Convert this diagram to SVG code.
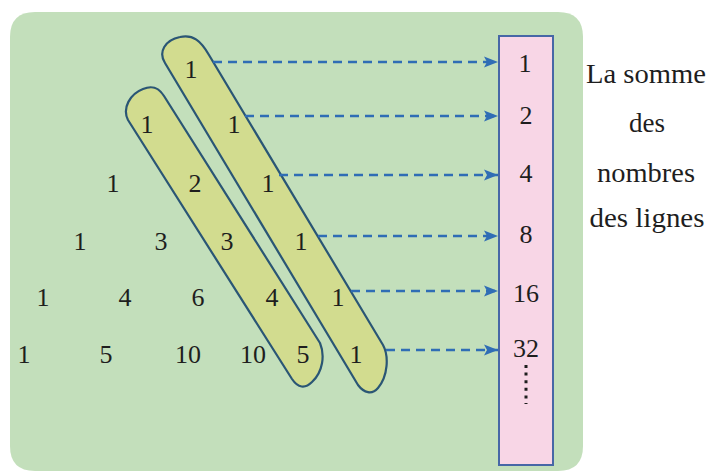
<svg xmlns="http://www.w3.org/2000/svg" width="712" height="472" viewBox="0 0 712 472">
  <style>
    .num { font-size: 26px; fill: #1e1e1e; text-anchor: middle; }
    .lbl { font-size: 27px; fill: #1e1e1e; text-anchor: middle; }
    .cap { fill: #d2dc8f; stroke: #2a5675; stroke-width: 2.2; stroke-linejoin: round; }
    .arr { stroke: #2f6db5; stroke-width: 2.6; stroke-dasharray: 9 6; fill: none; marker-end: url(#ah); }
  </style>
  <defs>
    <marker id="ah" markerUnits="userSpaceOnUse" markerWidth="16" markerHeight="14" refX="14" refY="7" orient="auto">
      <path d="M0,1.5 L14,7 L0,12.5 L3,7 Z" fill="#2f6db5"/>
    </marker>
  </defs>
  <rect width="712" height="472" fill="#ffffff"/>
  <g id="panel">
    <path d="M35,12 H558 Q583,12 583,37 V446 Q583,471 558,471 H35 Q10,471 10,446 V37 Q10,12 35,12 Z" fill="#c3dfbb"/>
  </g>
  <g id="capsule-inner">
    <path class="cap" d="M128,120 C122,108 130,94 143,89 C153,85 159,88 164,96 L320,343 C325,355 323,372 312,382 C305,389 298,388 292,379 Z"/>
  </g>
  <g id="capsule-outer">
    <path class="cap" d="M165,63 C158,52 165,40 180,37 C193,34 201,41 209,55 L383,345 C389,356 388,376 378,388 C372,395 364,393 358,385 Z"/>
  </g>
  <g id="triangle" font-family="Liberation Serif, Times New Roman, DejaVu Serif, serif">
    <text class="num" x="191" y="78">1</text>
    <text class="num" x="147" y="133">1</text>
    <text class="num" x="234" y="133">1</text>
    <text class="num" x="113" y="192">1</text>
    <text class="num" x="195" y="192">2</text>
    <text class="num" x="268" y="192">1</text>
    <text class="num" x="80" y="250">1</text>
    <text class="num" x="161" y="250">3</text>
    <text class="num" x="227" y="250">3</text>
    <text class="num" x="301" y="250">1</text>
    <text class="num" x="43" y="306">1</text>
    <text class="num" x="125" y="306">4</text>
    <text class="num" x="198" y="306">6</text>
    <text class="num" x="272" y="306">4</text>
    <text class="num" x="338" y="306">1</text>
    <text class="num" x="24" y="363">1</text>
    <text class="num" x="106" y="363">5</text>
    <text class="num" x="188" y="363">10</text>
    <text class="num" x="253" y="363">10</text>
    <text class="num" x="303" y="363">5</text>
    <text class="num" x="356" y="363">1</text>
  </g>
  <g id="sums" font-family="Liberation Serif, Times New Roman, DejaVu Serif, serif">
    <rect x="499" y="36" width="54" height="429" fill="#f8d6e6" stroke="#4767a6" stroke-width="2"/>
    <text class="num" x="525" y="72">1</text>
    <text class="num" x="526" y="124">2</text>
    <text class="num" x="526" y="182">4</text>
    <text class="num" x="526" y="243">8</text>
    <text class="num" x="526" y="302">16</text>
    <text class="num" x="526" y="357">32</text>
    <line x1="526" y1="365" x2="526" y2="404" stroke="#1e1e1e" stroke-width="3" stroke-dasharray="3 4.6"/>
  </g>
  <g id="label" font-family="Liberation Serif, Times New Roman, DejaVu Serif, serif">
    <text class="lbl" x="646" y="83" textLength="120" lengthAdjust="spacingAndGlyphs">La somme</text>
    <text class="lbl" x="647" y="132">des</text>
    <text class="lbl" x="646" y="182" textLength="98" lengthAdjust="spacingAndGlyphs">nombres</text>
    <text class="lbl" x="647" y="227" textLength="115" lengthAdjust="spacingAndGlyphs">des lignes</text>
  </g>
  <g id="connectors">
    <line class="arr" x1="213" y1="62" x2="498" y2="62"/>
    <line class="arr" x1="245" y1="116" x2="498" y2="116"/>
    <line class="arr" x1="279" y1="175" x2="498" y2="175"/>
    <line class="arr" x1="318" y1="236" x2="498" y2="236"/>
    <line class="arr" x1="351" y1="291" x2="498" y2="291"/>
    <line class="arr" x1="386" y1="350" x2="498" y2="350"/>
  </g>
</svg>
